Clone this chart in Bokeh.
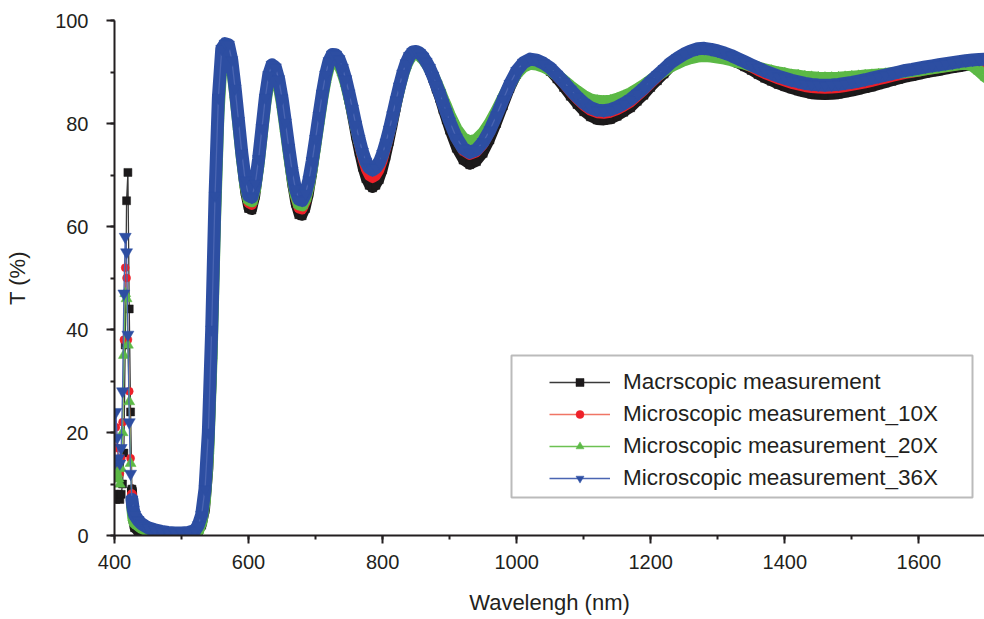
from bokeh.plotting import figure
from bokeh.models import (Range1d, SingleIntervalTicker, Legend, LegendItem,
                          BoxAnnotation, ColumnDataSource)
from bokeh.embed import file_html
from bokeh.resources import INLINE

# ---------------- data ----------------
wavelength = [
    400, 402, 404, 406, 408, 410, 412, 414, 416, 418, 420, 422, 424, 426, 428, 430,
    435, 440, 445, 450, 460, 470, 480, 490, 500, 510, 520,
    525, 530, 535, 540, 545, 550, 555, 560, 565, 570,
    575, 580, 585, 590, 595, 600, 605, 610, 615, 620,
    625, 630, 635, 640, 645, 650, 655, 660, 665, 670,
    675, 680, 685, 690, 695, 700, 705, 710, 715, 720,
    725, 730, 735, 740, 745, 750, 755, 760, 765, 770,
    775, 780, 785, 790, 795, 800, 805, 810, 815, 820,
    825, 830, 835, 840, 845, 850, 855, 860, 865, 870,
    875, 880, 885, 890, 895, 900,
    910, 920, 930, 940, 950, 960, 970, 980, 990, 1000,
    1010, 1020, 1030, 1040, 1050, 1060, 1070, 1080, 1090, 1100,
    1110, 1120, 1130, 1140, 1150, 1160, 1170, 1180, 1190, 1200,
    1210, 1220, 1230, 1240, 1250, 1260, 1270, 1280, 1290, 1300,
    1310, 1320, 1330, 1340, 1350, 1360, 1370, 1380, 1390, 1400,
    1410, 1420, 1430, 1440, 1450, 1460, 1470, 1480, 1490, 1500,
    1510, 1520, 1530, 1540, 1550, 1560, 1570, 1580, 1590, 1600,
    1610, 1620, 1630, 1640, 1650, 1660, 1670, 1680, 1690, 1700,
]

t_macro = [
    8, 7, 7.5, 8, 7, 8, 10, 16, 37, 65, 70.5, 44, 24, 9, 3, 1.5,
    0.8, 0.5, 0.4, 0.3, 0.3, 0.3, 0.3, 0.3, 0.3, 0.3, 0.4,
    0.8, 2, 5, 13, 31, 57, 80, 92.5, 95, 94.8,
    91.6, 85.7, 79.0, 72.3, 66.7, 63.5, 63.2, 66.0, 71.2, 77.6,
    84.0, 88.7, 90.9, 90.3, 87.8, 83.8, 78.6, 73.25, 68.3, 64.5,
    62.3, 62.1, 63.5, 66.4, 70.4, 75.1, 80.1, 84.8, 88.8, 91.7,
    93.1, 93.0, 92.1, 90.1, 87.6, 84.5, 81.1, 77.55, 74.4, 71.5,
    69.3, 68.0, 67.5, 68.0, 69.1, 71.0, 73.6, 76.5, 79.7, 83.0,
    86.1, 89.0, 91.3, 92.9, 93.8, 93.9, 93.5, 92.8, 91.7, 90.3,
    88.65, 86.7, 84.9, 82.7, 80.7, 78.7,
    75.2, 72.9, 72.0, 72.6, 74.2, 76.8, 80.0, 83.4, 86.8, 89.5,
    91.3, 92.1, 91.9, 91.2, 90.1, 88.65, 87.0, 85.3, 83.7, 82.3,
    81.3, 80.7, 80.6, 80.8, 81.4, 82.2, 83.05, 84.3, 85.5, 87.0,
    88.3, 89.6, 91.0, 92.0, 92.9, 93.5, 94.0, 94.1, 93.9, 93.5,
    93.0, 92.4, 91.7, 91.0, 90.3, 89.5, 88.8, 88.2, 87.6, 87.15,
    86.7, 86.3, 86.0, 85.7, 85.6, 85.55, 85.6, 85.7, 85.95, 86.2,
    86.5, 86.8, 87.1, 87.5, 87.85, 88.2, 88.55, 88.9, 89.15, 89.45,
    89.75, 90.0, 90.2, 90.45, 90.7, 90.9, 91.15, 91.3, 91.2, 90.9,
]

t_10x = [
    12, 21, 17, 13, 12, 15, 22, 38, 52, 50, 38, 28, 15, 8, 5, 3.5,
    2.5, 1.9, 1.5, 1.2, 0.9, 0.7, 0.5, 0.5, 0.5, 0.5, 0.7,
    1.5, 3.5, 8, 18, 37, 63, 83.5, 94, 95.5, 95.3,
    92.1, 86.4, 79.75, 73.1, 67.7, 64.5, 64.2, 67.0, 72.0, 78.4,
    84.6, 89.3, 91.4, 90.9, 88.4, 84.45, 79.4, 74.2, 69.4, 65.6,
    63.5, 63.3, 64.7, 67.45, 71.4, 75.95, 80.7, 85.3, 89.25, 92.0,
    93.4, 93.3, 92.4, 90.6, 88.25, 85.3, 82.15, 78.8, 75.8, 73.2,
    71.1, 69.8, 69.4, 69.8, 70.9, 72.7, 75.1, 77.7, 80.7, 83.8,
    86.7, 89.4, 91.5, 93.0, 93.9, 94.0, 93.7, 93.0, 91.95, 90.7,
    89.2, 87.4, 85.7, 83.75, 81.9, 80.05,
    76.9, 74.7, 73.9, 74.4, 75.9, 78.25, 81.2, 84.3, 87.35, 89.9,
    91.5, 92.2, 92.0, 91.4, 90.45, 89.1, 87.7, 86.1, 84.7, 83.45,
    82.5, 82.0, 81.9, 82.1, 82.6, 83.3, 84.1, 85.25, 86.4, 87.7,
    88.9, 90.1, 91.35, 92.3, 93.1, 93.7, 94.1, 94.2, 94.0, 93.7,
    93.3, 92.7, 92.1, 91.5, 90.9, 90.2, 89.6, 89.1, 88.6, 88.15,
    87.7, 87.4, 87.1, 86.9, 86.8, 86.75, 86.8, 86.9, 87.1, 87.3,
    87.55, 87.8, 88.1, 88.4, 88.7, 89.05, 89.35, 89.65, 89.85, 90.1,
    90.35, 90.55, 90.75, 90.95, 91.15, 91.4, 91.6, 91.7, 91.6, 91.3,
]

t_20x = [
    11, 14, 12, 11, 10, 13, 20, 35, 47, 46, 37, 26, 14, 6, 3.5, 2.5,
    2.0, 1.5, 1.2, 1.0, 0.7, 0.5, 0.4, 0.4, 0.4, 0.4, 0.5,
    1.0, 2.8, 7, 16.5, 35, 61, 81.5, 92.5, 94.2, 94.0,
    91.05, 85.6, 79.45, 73.25, 68.1, 65.2, 64.9, 67.4, 72.15, 78.0,
    83.8, 88.1, 90.1, 89.6, 87.3, 83.7, 79.0, 74.2, 69.7, 66.3,
    64.3, 64.1, 65.4, 68.0, 71.7, 76.0, 80.5, 84.8, 88.5, 91.1,
    92.4, 92.4, 91.5, 89.9, 87.8, 85.2, 82.4, 79.4, 76.7, 74.3,
    72.5, 71.4, 71.0, 71.4, 72.4, 74.0, 76.2, 78.6, 81.4, 84.2,
    86.85, 89.3, 91.25, 92.6, 93.4, 93.5, 93.2, 92.6, 91.8, 90.7,
    89.4, 88.0, 86.5, 84.8, 83.3, 81.7,
    79.0, 77.2, 76.5, 76.9, 78.2, 80.1, 82.5, 85.1, 87.6, 89.7,
    91.0, 91.6, 91.45, 91.0, 90.4, 89.4, 88.4, 87.3, 86.3, 85.4,
    84.7, 84.4, 84.3, 84.4, 84.8, 85.3, 85.9, 86.7, 87.5, 88.45,
    89.3, 90.2, 91.1, 91.7, 92.3, 92.7, 93.0, 93.1, 93.0, 92.8,
    92.6, 92.3, 91.9, 91.6, 91.2, 90.9, 90.5, 90.2, 89.9, 89.7,
    89.4, 89.3, 89.1, 89.0, 88.9, 88.85, 88.85, 88.9, 89.0, 89.1,
    89.2, 89.3, 89.4, 89.5, 89.6, 89.75, 89.9, 90.0, 90.15, 90.3,
    90.5, 90.7, 90.9, 91.1, 91.3, 91.5, 91.6, 91.2, 90.2, 89.0,
]

t_36x = [
    14, 24, 19, 15, 14, 17, 28, 47, 58, 55, 39, 22, 12, 7, 5, 4,
    3.0, 2.3, 1.9, 1.5, 1.1, 0.8, 0.6, 0.5, 0.5, 0.6, 1.0,
    2, 4, 9, 20, 40, 66, 85, 94.5, 95.5, 95.3,
    92.3, 86.8, 80.5, 74.2, 69.0, 66.0, 65.7, 68.3, 73.1, 79.1,
    85.0, 89.4, 91.4, 90.9, 88.6, 84.9, 80.2, 75.3, 70.8, 67.3,
    65.3, 65.1, 66.4, 69.0, 72.7, 77.0, 81.5, 85.8, 89.5, 92.1,
    93.4, 93.35, 92.5, 90.8, 88.6, 85.85, 82.9, 79.8, 77.0, 74.5,
    72.6, 71.4, 71.0, 71.4, 72.4, 74.1, 76.3, 78.8, 81.6, 84.5,
    87.2, 89.7, 91.7, 93.1, 93.9, 94.0, 93.7, 93.0, 92.0, 90.8,
    89.3, 87.6, 85.9, 84.0, 82.2, 80.4,
    77.3, 75.2, 74.4, 74.9, 76.4, 78.7, 81.6, 84.7, 87.7, 90.2,
    91.8, 92.5, 92.3, 91.7, 90.8, 89.5, 88.1, 86.6, 85.2, 84.0,
    83.1, 82.6, 82.5, 82.7, 83.2, 83.9, 84.7, 85.8, 86.9, 88.2,
    89.4, 90.6, 91.8, 92.7, 93.5, 94.1, 94.5, 94.6, 94.4, 94.1,
    93.7, 93.2, 92.6, 92.0, 91.4, 90.8, 90.2, 89.7, 89.2, 88.8,
    88.4, 88.1, 87.8, 87.6, 87.5, 87.45, 87.5, 87.6, 87.8, 88.0,
    88.25, 88.5, 88.8, 89.1, 89.4, 89.7, 90.0, 90.3, 90.5, 90.75,
    91.0, 91.2, 91.4, 91.6, 91.8, 92.0, 92.2, 92.35, 92.45, 92.5,
]

series_labels = ["Macrscopic measurement", "Microscopic measurement_10X",
                 "Microscopic measurement_20X", "Microscopic measurement_36X"]
x_ticks_interval = 200
y_ticks_interval = 20
band_start_nm = 426   # dense-marker band region (after the narrow spike)

# ---------------- styles ----------------
FONT = "Liberation Sans"
INK = "#231f20"
styles = [
    dict(y=t_macro, marker="square", size=8, band=10, fill="#1c1a1b", line="#3a3a3a"),
    dict(y=t_10x, marker="circle", size=8, band=10, fill="#ee2029", line="#f07565"),
    dict(y=t_20x, marker="triangle", size=11, band=12, fill="#5cb946", line="#6cc152"),
    dict(y=t_36x, marker="inverted_triangle", size=12, band=13, fill="#2d4ea2", line="#4a65b2"),
]

p = figure(width=984, height=619, output_backend="svg", toolbar_location=None,
           x_range=Range1d(400, 1698), y_range=Range1d(0, 100),
           min_border_left=114, min_border_right=0, min_border_top=20,
           min_border_bottom=84)
p.outline_line_color = None
p.xgrid.visible = False
p.ygrid.visible = False
p.background_fill_color = "white"
p.border_fill_color = "white"

k0 = next(i for i, w in enumerate(wavelength) if w >= band_start_nm)

items = []
for st, lab in zip(styles, series_labels):
    src = ColumnDataSource(dict(x=wavelength, y=st["y"]))
    band_src = ColumnDataSource(dict(x=wavelength[k0:], y=st["y"][k0:]))
    p.line("x", "y", source=band_src, line_color=st["fill"], line_width=st["band"],
           line_join="round", line_cap="round")
    lr = p.line("x", "y", source=src, line_color=st["line"], line_width=1.3)
    sr = p.scatter("x", "y", source=src, marker=st["marker"], size=st["size"],
                   fill_color=st["fill"], line_color=st["fill"], line_width=0.5)
    items.append(LegendItem(label=lab, renderers=[lr, sr]))

p.xaxis.ticker = SingleIntervalTicker(interval=x_ticks_interval, num_minor_ticks=2)
p.yaxis.ticker = SingleIntervalTicker(interval=y_ticks_interval, num_minor_ticks=2)
p.xaxis.axis_label = "Wavelengh (nm)"
p.yaxis.axis_label = "T (%)"

for ax in (p.xaxis[0], p.yaxis[0]):
    ax.axis_line_color = INK
    ax.axis_line_width = 2
    ax.major_tick_line_color = INK
    ax.major_tick_line_width = 2
    ax.major_tick_in = 0
    ax.major_tick_out = 8
    ax.minor_tick_line_color = INK
    ax.minor_tick_line_width = 2
    ax.minor_tick_in = 0
    ax.minor_tick_out = 4
    ax.major_label_text_font = FONT
    ax.major_label_text_font_size = "20px"
    ax.major_label_text_color = INK
    ax.axis_label_text_font = FONT
    ax.axis_label_text_font_size = "22px"
    ax.axis_label_text_font_style = "normal"
    ax.axis_label_text_color = INK

p.xaxis.major_label_standoff = 11
p.xaxis.axis_label_standoff = 18
p.yaxis.major_label_standoff = 18
p.yaxis.axis_label_standoff = 22

legend = Legend(items=items, location=(435, 41), border_line_color=None,
                background_fill_alpha=0, padding=0, margin=0, spacing=0,
                glyph_width=61, glyph_height=20, label_height=32,
                label_standoff=13, label_text_font=FONT,
                label_text_font_size="22.5px", label_text_color=INK)
p.add_layout(legend)

frame_box = BoxAnnotation(left=511, right=972, top=355, bottom=497,
                          left_units="canvas", right_units="canvas",
                          top_units="canvas", bottom_units="canvas",
                          fill_alpha=0, line_color="#1e1e1e", line_width=2)
p.add_layout(frame_box)

open("out.html", "w").write(file_html(p, INLINE))
